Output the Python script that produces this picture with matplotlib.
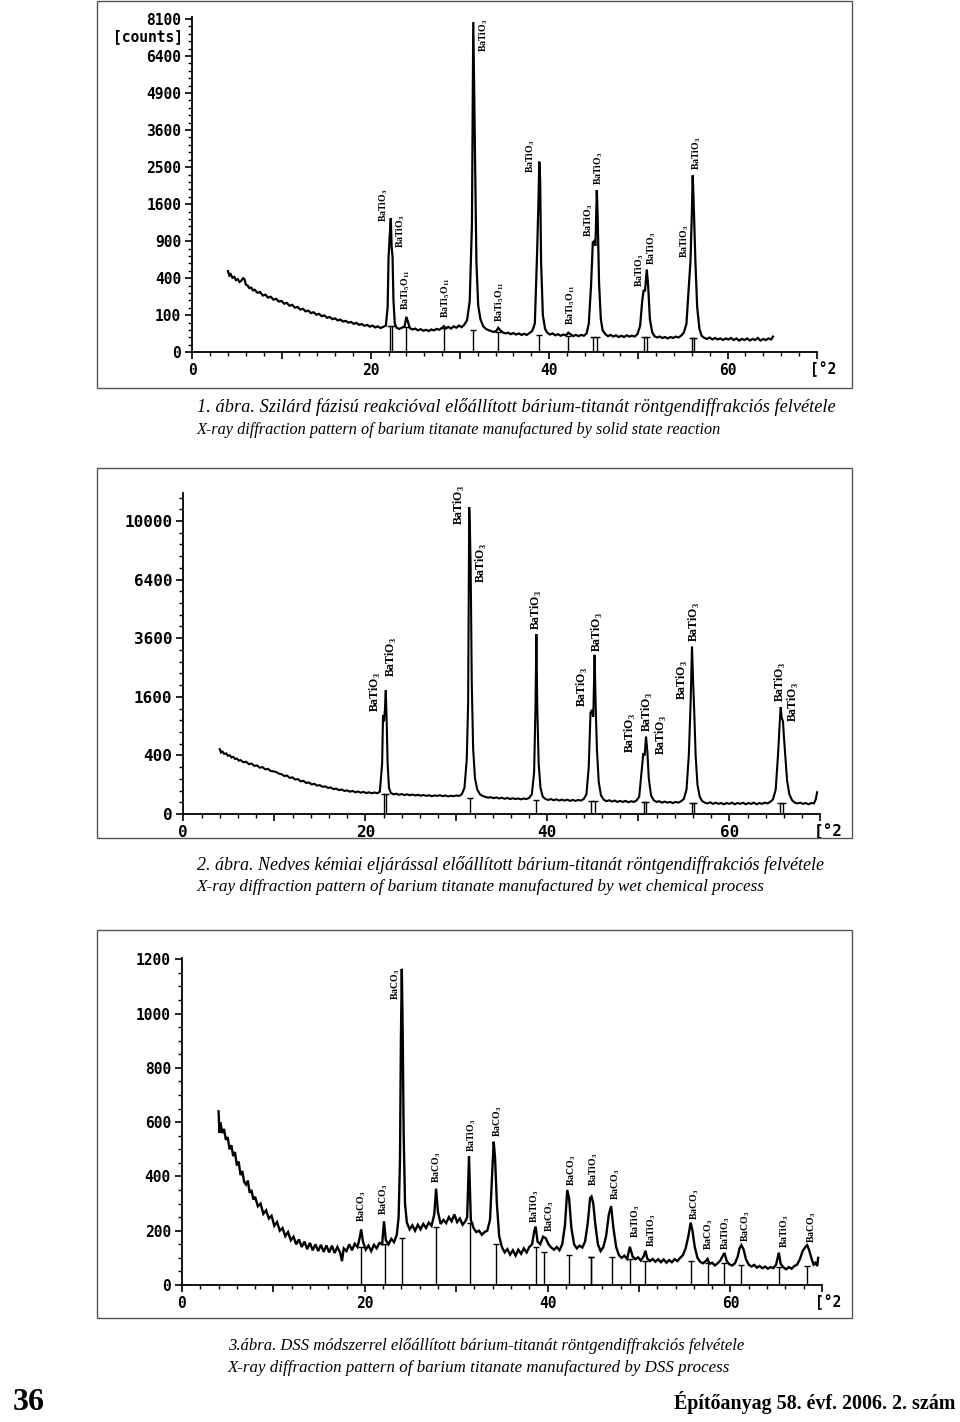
import numpy as np
import matplotlib.pyplot as plt
from matplotlib.ticker import FixedLocator, MultipleLocator, FuncFormatter
from matplotlib.patches import Rectangle

plt.rcParams['mathtext.fontset'] = 'custom'
plt.rcParams['mathtext.rm'] = 'Liberation Serif'
plt.rcParams['mathtext.bf'] = 'Liberation Serif:bold'

# ---- panel 1: solid state reaction (sqrt count scale) ----
p1_trace = [
    (4.0, 480), (4.15, 430), (4.3, 445), (4.5, 405), (4.7, 415), (4.9, 380), (5.1, 390), (5.3, 360),
    (5.5, 375), (5.7, 400), (5.85, 390), (6.0, 335), (6.2, 325), (6.4, 300), (6.6, 305), (6.8, 280),
    (7.0, 285), (7.3, 258), (7.6, 265), (7.9, 235), (8.2, 242), (8.5, 218), (8.8, 225), (9.1, 202),
    (9.4, 208), (9.7, 188), (10.0, 192), (10.3, 172), (10.6, 178), (10.9, 158), (11.2, 164), (11.5, 145),
    (11.8, 150), (12.1, 133), (12.4, 138), (12.7, 122), (13.0, 127), (13.3, 112), (13.6, 117), (13.9, 103),
    (14.2, 108), (14.5, 95), (14.8, 99), (15.1, 87), (15.4, 91), (15.7, 80), (16.0, 84), (16.3, 74),
    (16.6, 78), (16.9, 69), (17.2, 72), (17.5, 64), (17.8, 67), (18.1, 59), (18.4, 63), (18.7, 55),
    (19.0, 58), (19.3, 51), (19.6, 55), (19.9, 48), (20.2, 52), (20.5, 45), (20.8, 49), (21.1, 43),
    (21.4, 47), (21.7, 52), (21.9, 150), (22.0, 650), (22.1, 900), (22.25, 1310), (22.35, 800), (22.45, 660),
    (22.55, 200), (22.7, 60), (22.9, 44), (23.2, 40), (23.5, 44), (23.8, 50), (24.0, 92), (24.15, 70),
    (24.4, 42), (24.7, 38), (25.0, 41), (25.3, 35), (25.6, 39), (25.9, 34), (26.2, 37), (26.5, 33),
    (26.8, 38), (27.1, 35), (27.4, 40), (27.7, 37), (28.0, 44), (28.2, 50), (28.4, 42), (28.7, 47),
    (29.0, 41), (29.3, 49), (29.6, 44), (29.9, 52), (30.2, 46), (30.5, 56), (30.8, 75), (31.1, 190),
    (31.35, 1200), (31.5, 7950), (31.6, 5000), (31.7, 2900), (31.85, 600), (32.05, 160), (32.3, 80), (32.6, 50),
    (32.9, 40), (33.2, 36), (33.5, 33), (33.8, 30), (34.1, 34), (34.3, 44), (34.5, 36), (34.8, 29),
    (35.1, 26), (35.4, 28), (35.7, 24), (36.0, 27), (36.3, 23), (36.6, 26), (36.9, 22), (37.2, 25),
    (37.5, 22), (37.8, 27), (38.1, 33), (38.4, 60), (38.65, 700), (38.8, 1600), (38.9, 2650), (39.0, 2150),
    (39.1, 600), (39.3, 100), (39.55, 40), (39.8, 28), (40.1, 23), (40.4, 26), (40.7, 21), (41.0, 24),
    (41.3, 20), (41.6, 23), (41.9, 21), (42.15, 28), (42.4, 24), (42.7, 19), (43.0, 22), (43.3, 19),
    (43.6, 22), (43.9, 20), (44.2, 26), (44.45, 60), (44.7, 320), (44.9, 880), (45.05, 900), (45.2, 830),
    (45.35, 1920), (45.45, 1300), (45.6, 350), (45.8, 80), (46.0, 35), (46.3, 24), (46.6, 19), (46.9, 22),
    (47.2, 18), (47.5, 21), (47.8, 17), (48.1, 20), (48.4, 17), (48.7, 21), (49.0, 18), (49.3, 20),
    (49.6, 18), (49.9, 24), (50.2, 50), (50.45, 200), (50.6, 283), (50.75, 270), (50.95, 500), (51.1, 330),
    (51.3, 80), (51.55, 30), (51.8, 19), (52.1, 16), (52.4, 18), (52.7, 15), (53.0, 17), (53.3, 14),
    (53.6, 17), (53.9, 15), (54.2, 18), (54.5, 16), (54.8, 20), (55.1, 28), (55.4, 60), (55.65, 300),
    (55.85, 600), (56.0, 1380), (56.1, 2280), (56.25, 1370), (56.4, 600), (56.6, 150), (56.85, 40), (57.1, 20),
    (57.4, 15), (57.7, 13), (58.0, 16), (58.3, 12), (58.6, 15), (58.9, 12), (59.2, 14), (59.5, 11),
    (59.8, 14), (60.1, 12), (60.4, 15), (60.7, 11), (61.0, 14), (61.3, 10), (61.6, 13), (61.9, 11),
    (62.2, 14), (62.5, 10), (62.8, 13), (63.1, 11), (63.4, 15), (63.7, 10), (64.0, 13), (64.3, 11),
    (64.6, 14), (64.9, 12), (65.1, 18),
]
p1_stick_x = [22.15, 22.35, 24.0, 28.2, 31.5, 34.3, 38.9, 42.15, 44.95, 45.35, 50.6, 50.95, 56.0, 56.2]
p1_stick_top = [50, 50, 45, 42, 35, 30, 22, 20, 18, 18, 16, 16, 14, 14]
p1_lab_name = ['BaTiO3', 'BaTiO3', 'BaTi5O11', 'BaTi5O11', 'BaTiO3', 'BaTi5O11', 'BaTiO3',
               'BaTi5O11', 'BaTiO3', 'BaTiO3', 'BaTiO3', 'BaTiO3', 'BaTiO3', 'BaTiO3']
p1_lab_x = [21.4, 23.3, 23.9, 28.4, 32.7, 34.5, 37.9, 42.4, 44.4, 45.6, 50.1, 51.5, 55.2, 56.5]
p1_lab_y = [1238, 794, 131, 86, 6580, 67, 2345, 55, 970, 2037, 311, 557, 651, 2426]
p1_yticks = [0, 100, 400, 900, 1600, 2500, 3600, 4900, 6400, 8100]

# ---- panel 2: wet chemical process (sqrt count scale) ----
p2_trace = [
    (4.0, 490), (4.15, 440), (4.3, 455), (4.5, 420), (4.7, 428), (4.9, 395), (5.1, 402), (5.3, 372),
    (5.5, 380), (5.7, 352), (5.9, 358), (6.1, 332), (6.3, 338), (6.6, 312), (6.9, 318), (7.2, 290),
    (7.5, 296), (7.8, 270), (8.1, 275), (8.4, 250), (8.7, 256), (9.0, 232), (9.3, 238), (9.6, 215),
    (9.9, 212), (10.2, 205), (10.5, 190), (10.8, 184), (11.1, 168), (11.4, 172), (11.7, 152), (12.0, 156),
    (12.3, 138), (12.6, 142), (12.9, 124), (13.2, 128), (13.5, 112), (13.8, 116), (14.1, 102), (14.4, 106),
    (14.7, 94), (15.0, 97), (15.3, 86), (15.6, 89), (15.9, 79), (16.2, 82), (16.5, 72), (16.8, 75),
    (17.1, 66), (17.4, 70), (17.7, 62), (18.0, 65), (18.3, 58), (18.6, 62), (18.9, 55), (19.2, 59),
    (19.5, 53), (19.8, 57), (20.1, 51), (20.4, 55), (20.7, 50), (21.0, 54), (21.3, 50), (21.6, 58),
    (21.85, 300), (21.95, 1140), (22.05, 1000), (22.15, 1250), (22.25, 1790), (22.35, 1000), (22.45, 300), (22.6, 80),
    (22.8, 52), (23.1, 45), (23.4, 48), (23.7, 43), (24.0, 46), (24.3, 42), (24.6, 45), (24.9, 41),
    (25.2, 44), (25.5, 40), (25.8, 43), (26.1, 39), (26.4, 42), (26.7, 38), (27.0, 41), (27.3, 37),
    (27.6, 40), (27.9, 38), (28.2, 41), (28.5, 37), (28.8, 40), (29.1, 36), (29.4, 39), (29.7, 37),
    (30.0, 40), (30.3, 38), (30.6, 45), (30.9, 80), (31.15, 350), (31.3, 1430), (31.42, 10960), (31.5, 9400),
    (31.58, 7040), (31.7, 2000), (31.85, 500), (32.05, 150), (32.3, 70), (32.6, 45), (32.9, 38), (33.2, 34),
    (33.5, 31), (33.8, 33), (34.1, 29), (34.4, 32), (34.7, 28), (35.0, 31), (35.3, 27), (35.6, 30),
    (35.9, 26), (36.2, 29), (36.5, 26), (36.8, 28), (37.1, 25), (37.4, 28), (37.7, 26), (38.0, 30),
    (38.3, 45), (38.55, 200), (38.7, 1310), (38.8, 3770), (38.9, 1300), (39.05, 300), (39.25, 80), (39.5, 35),
    (39.8, 26), (40.1, 23), (40.4, 26), (40.7, 22), (41.0, 25), (41.3, 21), (41.6, 24), (41.9, 21),
    (42.2, 24), (42.5, 20), (42.8, 23), (43.1, 20), (43.4, 23), (43.7, 21), (44.0, 26), (44.3, 45),
    (44.55, 250), (44.75, 1200), (44.9, 1260), (45.05, 1100), (45.2, 2950), (45.3, 1510), (45.45, 500), (45.65, 120),
    (45.9, 40), (46.2, 24), (46.5, 19), (46.8, 22), (47.1, 18), (47.4, 21), (47.7, 17), (48.0, 20),
    (48.3, 17), (48.6, 20), (48.9, 16), (49.2, 19), (49.5, 17), (49.8, 21), (50.1, 35), (50.35, 200),
    (50.55, 430), (50.7, 400), (50.85, 700), (51.0, 450), (51.15, 150), (51.4, 40), (51.7, 22), (52.0, 17),
    (52.3, 19), (52.6, 15), (52.9, 18), (53.2, 15), (53.5, 17), (53.8, 14), (54.1, 17), (54.4, 15),
    (54.7, 19), (55.0, 26), (55.3, 70), (55.55, 400), (55.75, 1440), (55.9, 3260), (56.0, 2250), (56.15, 1200),
    (56.3, 400), (56.5, 100), (56.75, 35), (57.0, 20), (57.3, 15), (57.6, 13), (57.9, 16), (58.2, 12),
    (58.5, 15), (58.8, 12), (59.1, 14), (59.4, 11), (59.7, 14), (60.0, 12), (60.3, 15), (60.6, 11),
    (60.9, 14), (61.2, 12), (61.5, 15), (61.8, 11), (62.1, 14), (62.4, 12), (62.7, 15), (63.0, 11),
    (63.3, 14), (63.6, 12), (63.9, 15), (64.2, 13), (64.5, 17), (64.8, 25), (65.1, 70), (65.35, 400),
    (65.55, 1000), (65.65, 1330), (65.75, 1080), (65.9, 1000), (66.0, 700), (66.15, 400), (66.35, 130), (66.6, 45),
    (66.9, 22), (67.2, 15), (67.5, 13), (67.8, 15), (68.1, 12), (68.4, 14), (68.7, 11), (69.0, 14),
    (69.3, 13), (69.5, 25), (69.65, 55),
]
p2_stick_x = [22.1, 22.3, 31.5, 38.8, 44.8, 45.2, 50.6, 50.9, 55.9, 56.1, 65.6, 65.9]
p2_stick_top = [45, 45, 30, 22, 20, 20, 18, 18, 14, 14, 13, 13]
p2_lab_x = [21.1, 22.9, 30.4, 32.8, 38.8, 43.9, 45.5, 49.1, 51.0, 52.5, 54.8, 56.2, 65.6, 67.0]
p2_lab_y = [1212, 2186, 9730, 6215, 3943, 1334, 3057, 433, 783, 405, 1514, 3446, 1461, 986]
p2_yticks = [0, 400, 1600, 3600, 6400, 10000]

# ---- panel 3: DSS process (linear count scale) ----
p3_trace = [
    (4.0, 640), (4.1, 560), (4.2, 600), (4.4, 560), (4.6, 575), (4.8, 535), (5.0, 545), (5.2, 500),
    (5.4, 515), (5.6, 475), (5.8, 490), (6.0, 440), (6.2, 455), (6.4, 405), (6.6, 420), (6.8, 380),
    (7.0, 370), (7.2, 385), (7.4, 340), (7.6, 350), (7.8, 315), (8.0, 325), (8.3, 290), (8.6, 300),
    (8.9, 262), (9.2, 275), (9.5, 245), (9.8, 255), (10.1, 218), (10.4, 232), (10.7, 200), (11.0, 210),
    (11.3, 180), (11.6, 195), (11.9, 165), (12.2, 178), (12.5, 150), (12.8, 168), (13.1, 140), (13.4, 160),
    (13.7, 132), (14.0, 155), (14.3, 128), (14.6, 150), (14.9, 125), (15.2, 148), (15.5, 122), (15.8, 146),
    (16.1, 120), (16.4, 145), (16.7, 118), (17.0, 140), (17.3, 120), (17.5, 88), (17.7, 135), (18.0, 125),
    (18.3, 150), (18.6, 128), (18.9, 152), (19.2, 140), (19.45, 175), (19.6, 205), (19.8, 160), (20.1, 130),
    (20.4, 145), (20.7, 125), (21.0, 148), (21.3, 135), (21.6, 155), (21.9, 150), (22.1, 235), (22.3, 165),
    (22.6, 150), (22.9, 170), (23.2, 158), (23.5, 185), (23.7, 250), (23.85, 460), (23.95, 900), (24.05, 1165),
    (24.15, 920), (24.25, 560), (24.4, 300), (24.6, 230), (24.9, 205), (25.2, 220), (25.5, 200), (25.8, 222),
    (26.1, 205), (26.4, 225), (26.7, 210), (27.0, 230), (27.3, 218), (27.6, 260), (27.8, 355), (28.0, 270),
    (28.3, 225), (28.6, 240), (28.9, 228), (29.2, 250), (29.5, 235), (29.8, 260), (30.1, 232), (30.4, 245),
    (30.7, 222), (31.0, 235), (31.2, 250), (31.4, 475), (31.6, 240), (31.9, 210), (32.2, 195), (32.5, 200),
    (32.8, 185), (33.1, 195), (33.4, 200), (33.7, 240), (33.95, 420), (34.1, 528), (34.25, 470), (34.45, 300),
    (34.7, 180), (35.0, 140), (35.3, 120), (35.6, 132), (35.9, 112), (36.2, 128), (36.5, 108), (36.8, 130),
    (37.1, 115), (37.4, 135), (37.7, 120), (38.0, 140), (38.3, 150), (38.55, 200), (38.7, 215), (38.9, 160),
    (39.2, 150), (39.5, 178), (39.8, 172), (40.1, 150), (40.4, 138), (40.7, 130), (41.0, 140), (41.3, 128),
    (41.6, 150), (41.9, 220), (42.15, 350), (42.35, 320), (42.6, 210), (42.9, 150), (43.2, 135), (43.5, 145),
    (43.8, 138), (44.1, 160), (44.4, 230), (44.65, 320), (44.8, 326), (45.0, 300), (45.2, 230), (45.5, 150),
    (45.8, 125), (46.1, 140), (46.4, 180), (46.7, 260), (46.95, 291), (47.2, 210), (47.5, 140), (47.8, 110),
    (48.1, 100), (48.4, 108), (48.7, 96), (49.0, 141), (49.3, 105), (49.6, 95), (49.9, 102), (50.2, 90),
    (50.5, 105), (50.7, 126), (50.9, 98), (51.2, 88), (51.5, 96), (51.8, 86), (52.1, 95), (52.4, 84),
    (52.7, 94), (53.0, 82), (53.3, 92), (53.6, 84), (53.9, 95), (54.2, 88), (54.5, 100), (54.8, 110),
    (55.1, 135), (55.4, 180), (55.65, 230), (55.85, 200), (56.1, 140), (56.4, 100), (56.7, 85), (57.0, 80),
    (57.3, 88), (57.5, 96), (57.7, 78), (58.0, 82), (58.3, 72), (58.6, 80), (58.9, 90), (59.2, 110),
    (59.35, 118), (59.6, 88), (59.9, 76), (60.2, 72), (60.5, 80), (60.8, 105), (61.0, 135), (61.2, 147),
    (61.45, 130), (61.7, 95), (62.0, 75), (62.3, 68), (62.6, 74), (62.9, 64), (63.2, 70), (63.5, 62),
    (63.8, 68), (64.1, 60), (64.4, 66), (64.7, 62), (65.0, 75), (65.3, 119), (65.5, 78), (65.8, 65),
    (66.1, 58), (66.4, 66), (66.7, 60), (67.0, 70), (67.3, 75), (67.6, 95), (67.9, 125), (68.2, 140),
    (68.4, 147), (68.6, 130), (68.9, 95), (69.1, 75), (69.3, 82), (69.5, 70), (69.6, 100),
]
p3_stick_x = [19.6, 22.2, 24.1, 27.8, 31.5, 34.3, 38.7, 39.6, 42.3, 44.7, 44.8, 47.0, 49.0, 50.7,
              55.7, 57.5, 59.3, 61.2, 65.3, 68.4]
p3_stick_top = [140, 150, 175, 215, 230, 150, 140, 120, 110, 105, 105, 105, 95, 90, 90, 80, 80, 75, 65, 70]
p3_lab_name = ['BaCO3', 'BaCO3', 'BaCO3', 'BaCO3', 'BaTiO3', 'BaCO3', 'BaTiO3', 'BaCO3', 'BaCO3',
               'BaTiO3', 'BaCO3', 'BaTiO3', 'BaTiO3', 'BaCO3', 'BaCO3', 'BaTiO3', 'BaCO3', 'BaTiO3', 'BaCO3']
p3_lab_x = [19.6, 22.1, 23.4, 27.9, 31.7, 34.5, 38.6, 40.2, 42.6, 45.0, 47.4, 49.6, 51.4, 56.1,
            57.6, 59.5, 61.7, 65.9, 68.9]
p3_lab_y = [232, 258, 1050, 376, 490, 546, 229, 195, 365, 365, 313, 173, 140, 240, 129, 129, 158, 136, 155]
p3_yticks = [0, 200, 400, 600, 800, 1000, 1200]

captions = [
    ("1. ábra. Szilárd fázisú reakcióval előállított bárium-titanát röntgendiffrakciós felvétele",
     "X-ray diffraction pattern of barium titanate manufactured by solid state reaction"),
    ("2. ábra. Nedves kémiai eljárással előállított bárium-titanát röntgendiffrakciós felvétele",
     "X-ray diffraction pattern of barium titanate manufactured by wet chemical process"),
    ("3.ábra. DSS módszerrel előállított bárium-titanát röntgendiffrakciós felvétele",
     "X-ray diffraction pattern of barium titanate manufactured by DSS process"),
]

formula = {
    'BaTiO3': r'BaTiO$_\mathbf{3}$',
    'BaTi5O11': r'BaTi$_\mathbf{5}$O$_\mathbf{11}$',
    'BaCO3': r'BaCO$_\mathbf{3}$',
}

W, H = 960, 1422
fig = plt.figure(figsize=(W / 100, H / 100), dpi=100)

def fig_box(x0, y0, x1, y1):
    # pixel box (top-down) -> figure fraction [l, b, w, h]
    return [x0 / W, 1 - y1 / H, (x1 - x0) / W, (y1 - y0) / H]

def sq(y):
    return np.sqrt(np.clip(y, 0, None))

def isq(y):
    return np.square(y)

mono = 'DejaVu Sans Mono'

def make_axes(box, ymax, sqrt_scale, yticks, yminor, tick_fs):
    ax = fig.add_axes(box)
    if sqrt_scale:
        ax.set_yscale('function', functions=(sq, isq))
    ax.set_xlim(0, 70)
    ax.set_ylim(0, ymax)
    for s in ['top', 'right']:
        ax.spines[s].set_visible(False)
    for s in ['left', 'bottom']:
        ax.spines[s].set_linewidth(1.3)
    ax.xaxis.set_major_locator(MultipleLocator(10))
    ax.xaxis.set_minor_locator(MultipleLocator(2))
    ax.xaxis.set_major_formatter(FuncFormatter(lambda v, p: '%d' % v if v % 20 == 0 else ''))
    ax.yaxis.set_major_locator(FixedLocator(yticks))
    ax.yaxis.set_minor_locator(FixedLocator(yminor))
    ax.yaxis.set_major_formatter(FuncFormatter(lambda v, p: '%d' % round(v)))
    ax.tick_params(axis='both', which='major', direction='out', length=5, width=1.2, pad=3)
    ax.tick_params(axis='both', which='minor', direction='out', length=3, width=1.0)
    for lab in ax.get_xticklabels() + ax.get_yticklabels():
        lab.set_fontfamily(mono)
        lab.set_fontweight('bold')
        lab.set_fontsize(tick_fs)
    ax.annotate('[°2', xy=(1, 0), xycoords='axes fraction', xytext=(-5, -6.5),
                textcoords='offset points', ha='left', va='top',
                fontfamily=mono, fontweight='bold', fontsize=tick_fs)
    return ax

def draw(ax, trace, sx, stop, names, lx, ly, lab_fs, lw):
    x = [p[0] for p in trace]
    y = [p[1] for p in trace]
    ax.plot(x, y, color='black', lw=lw, solid_joinstyle='miter')
    ax.vlines(sx, 0, stop, color='black', lw=1.0)
    ax.plot(sx, stop, ls='none', marker='_', ms=5, mew=1.0, color='black')
    for n, xx, yy in zip(names, lx, ly):
        ax.text(xx, yy, formula[n], rotation=90, ha='center', va='bottom',
                fontfamily='Liberation Serif', fontweight='bold', fontsize=lab_fs)

# frames
for (t, b) in [(1, 388), (468, 838), (930, 1318)]:
    fig.add_artist(Rectangle((97 / W, 1 - b / H), 755 / W, (b - t) / H, transform=fig.transFigure,
                             fill=False, edgecolor='#555555', lw=1.0))

# panel 1
ax1 = make_axes(fig_box(192.3, 16.7, 816.7, 352.3), 8210, True, p1_yticks,
                [v * v for v in range(2, 91, 2) if v % 10 != 0], 10.5)
draw(ax1, p1_trace, p1_stick_x, p1_stick_top, p1_lab_name, p1_lab_x, p1_lab_y, 7, 1.6)
ax1.annotate('[counts]', xy=(0, 7250), xytext=(-7, 0), textcoords='offset points',
             ha='right', va='center', fontfamily=mono, fontweight='bold', fontsize=10.5)

# panel 2
ax2 = make_axes(fig_box(183.3, 493.4, 820.3, 814), 11970, True, p2_yticks,
                [v * v for v in range(4, 110, 4) if v % 20 != 0], 11.5)
draw(ax2, p2_trace, p2_stick_x, p2_stick_top, ['BaTiO3'] * len(p2_lab_x), p2_lab_x, p2_lab_y, 8.5, 1.5)

# panel 3
ax3 = make_axes(fig_box(182, 958, 821.8, 1285), 1205, False, p3_yticks,
                [v for v in range(50, 1201, 50) if v % 200 != 0], 10.5)
draw(ax3, p3_trace, p3_stick_x, p3_stick_top, p3_lab_name, p3_lab_x, p3_lab_y, 7, 1.7)

# captions: (left px, y line 1, y line 2, size line 1, size line 2)
cap_pos = [(197, 407, 430, 13.2, 11.7), (197, 865, 887, 13.0, 12.3), (228, 1346, 1368, 12.0, 12.2)]
for (l1, l2), (x0, y1, y2, f1, f2) in zip(captions, cap_pos):
    fig.text(x0 / W, 1 - y1 / H, l1, ha='left', va='center', fontfamily='Liberation Serif',
             style='italic', fontsize=f1)
    fig.text(x0 / W, 1 - y2 / H, l2, ha='left', va='center', fontfamily='Liberation Serif',
             style='italic', fontsize=f2)

fig.text(13 / W, 1 - 1402 / H, '36', ha='left', va='center', fontfamily='Liberation Serif',
         fontweight='bold', fontsize=23)
fig.text(955 / W, 1 - 1402 / H, 'Építőanyag 58. évf. 2006. 2. szám', ha='right', va='center',
         fontfamily='Liberation Serif', fontweight='bold', fontsize=14.4)

fig.savefig('out.png', dpi=100)
